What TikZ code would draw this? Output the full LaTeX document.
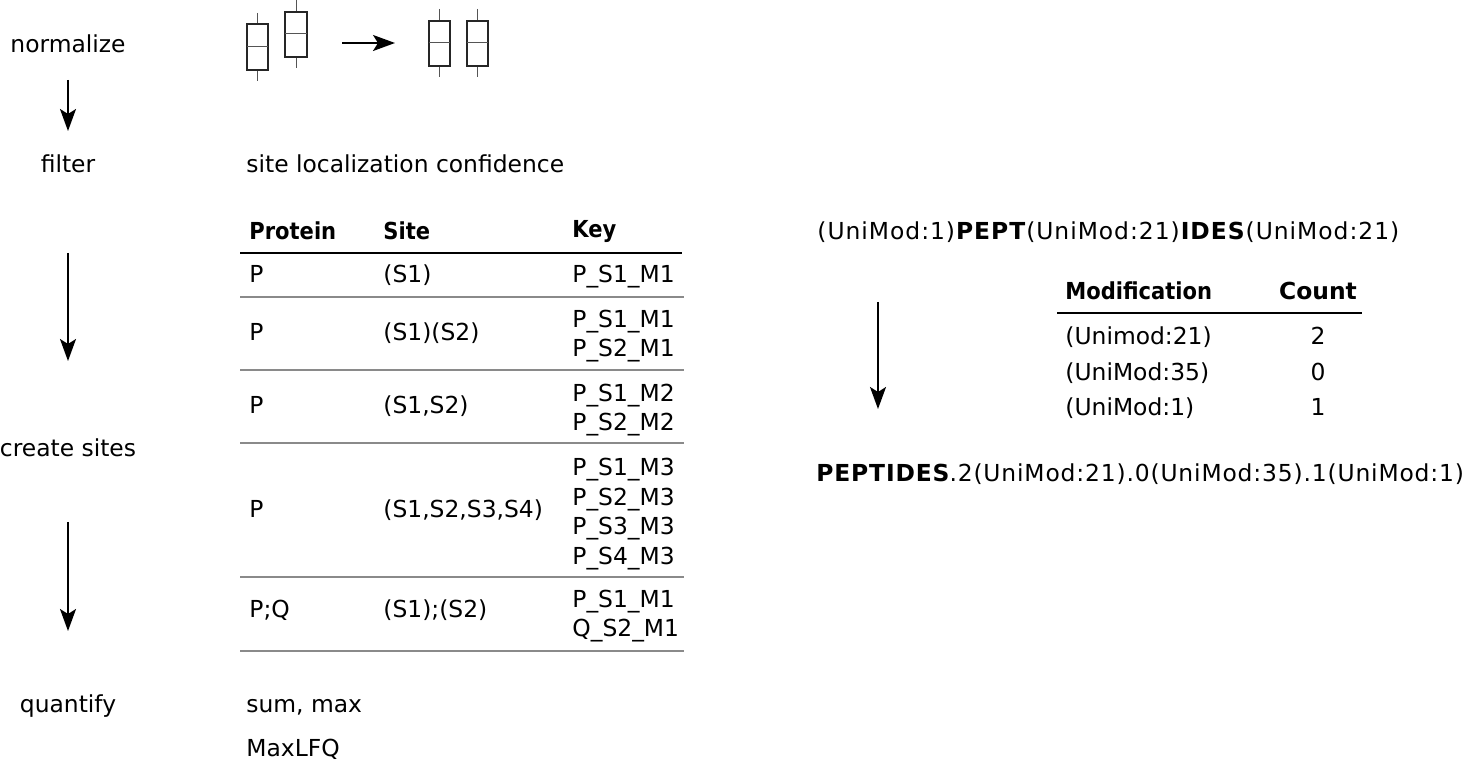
\documentclass[tikz,border=0pt]{standalone}
\usepackage{fontspec}
\setmainfont{DejaVu Sans}
\newfontfamily\condfont{DejaVu Sans Condensed}
\usetikzlibrary{arrows.meta,positioning}
\definecolor{RuleGray}{HTML}{8A8A8A}
\definecolor{WhiskGray}{HTML}{555555}
\tikzset{
  lbl/.style={font=\fontsize{11.7}{15}\selectfont,inner sep=0pt,
              text height=0.95em,text depth=0.15em},
  hdr/.style={lbl,font=\fontsize{11.7}{15}\selectfont\condfont\bfseries},
  keys/.style={font=\fontsize{11.7}{14.8}\selectfont,inner sep=0pt,align=left},
  flow/.style={-{Stealth[length=11pt,width=8pt,inset=2.5pt]},line width=0.9pt},
  boxp/.style={draw=black!85,line width=0.8pt,fill=white},
  whisk/.style={draw=WhiskGray,line width=0.5pt},
  toprule/.style={line width=1.4pt},
  rowrule/.style={draw=RuleGray,line width=0.6pt},
}
% one boxplot: x-left, x-right, y-top, y-bottom, median, whisker top, whisker bottom
\newcommand{\boxglyph}[7]{%
  \draw[whisk] ({(#1+#2)/2},#6) -- ({(#1+#2)/2},#7);
  \draw[boxp] (#1,#3) rectangle (#2,#4);
  \draw[whisk] (#1,#5) -- (#2,#5);
}

\begin{document}
\begin{tikzpicture}[x=0.5pt,y=-0.5pt]
  \useasboundingbox (0,0) rectangle (1467,763);

  % steps on the left
  \node[lbl] (normalize) at (68,45)  {normalize};
  \node[lbl] (filter)    at (68,165) {filter};
  \node[lbl] (create)    at (68,449) {create sites};
  \node[lbl] (quantify)  at (68,705) {quantify};

  \coordinate (a1s) at (68,80);  \coordinate (a1e) at (68,131);
  \coordinate (a2s) at (68,253); \coordinate (a2e) at (68,361);
  \coordinate (a3s) at (68,522); \coordinate (a3e) at (68,631);
  \draw[flow] (a1s) -- (a1e);
  \draw[flow] (a2s) -- (a2e);
  \draw[flow] (a3s) -- (a3e);

  % normalization sketch
  \boxglyph{247}{268}{24}{70}{47}{13}{81}
  \boxglyph{285}{307}{12}{57}{34}{0}{68}
  \coordinate (nS) at (342,43); \coordinate (nE) at (395,43);
  \draw[flow] (nS) -- (nE);
  \boxglyph{429}{450}{21}{66}{43}{9}{77}
  \boxglyph{467}{488}{21}{66}{43}{9}{77}

  \node[lbl,anchor=west] (conf) at (246,165) {site localization confidence};

  % site table
  \node[hdr,anchor=west] (hProt) at (249,232) {Protein};
  \node[hdr,anchor=west] (hSite) at (383,232) {Site};
  \node[hdr,anchor=west] (hKey)  at (572,230) {Key};
  \draw[toprule] (240,253) -- (682,253);
  \foreach \y in {297,370,443,577,651}
    \draw[rowrule] (240,\y) -- (684,\y);

  \node[lbl,anchor=west] (p1) at (249,275) {P};
  \node[lbl,anchor=west] (s1) at (383,275) {(S1)};
  \node[lbl,anchor=west] (k1) at (572,275) {P\_S1\_M1};

  \node[lbl,anchor=west] (p2) at (249,333) {P};
  \node[lbl,anchor=west] (s2) at (383,333) {(S1)(S2)};
  \node[keys,anchor=west] (k2) at (572,336) {P\_S1\_M1\\P\_S2\_M1};

  \node[lbl,anchor=west] (p3) at (249,406) {P};
  \node[lbl,anchor=west] (s3) at (383,406) {(S1,S2)};
  \node[keys,anchor=west] (k3) at (572,410) {P\_S1\_M2\\P\_S2\_M2};

  \node[lbl,anchor=west] (p4) at (249,510) {P};
  \node[lbl,anchor=west] (s4) at (383,510) {(S1,S2,S3,S4)};
  \node[keys,anchor=west] (k4) at (572,514)
    {P\_S1\_M3\\P\_S2\_M3\\P\_S3\_M3\\P\_S4\_M3};

  \node[lbl,anchor=west] (p5) at (249,610) {P;Q};
  \node[lbl,anchor=west] (s5) at (383,610) {(S1);(S2)};
  \node[keys,anchor=west] (k5) at (572,616) {P\_S1\_M1\\Q\_S2\_M1};

  \node[lbl,anchor=west] (aggr)   at (246,705) {sum, max};
  \node[lbl,anchor=west] (maxlfq) at (246,748) {MaxLFQ};

  % peptide encoding on the right
  \node[lbl,anchor=west] (modpep) at (817,232)
    {\addfontfeature{LetterSpace=4.2}(UniMod:1)\textbf{PEPT}(UniMod:21)\textbf{IDES}(UniMod:21)};
  \coordinate (rS) at (878,302); \coordinate (rE) at (878,409);
  \draw[flow] (rS) -- (rE);

  \node[hdr,anchor=west] (hMod) at (1065,292) {Modification};
  \node[lbl,font=\fontsize{11.7}{15}\selectfont\bfseries] (hCnt) at (1318,292) {Count};
  \draw[toprule] (1057,313) -- (1362,313);
  \node[lbl,anchor=west] (m1) at (1065,337) {(Unimod:21)};
  \node[lbl,anchor=west] (m2) at (1065,373) {(UniMod:35)};
  \node[lbl,anchor=west] (m3) at (1065,408) {(UniMod:1)};
  \node[lbl] (c1) at (1318,337) {2};
  \node[lbl] (c2) at (1318,373) {0};
  \node[lbl] (c3) at (1318,408) {1};

  \node[lbl,anchor=west] (encoded) at (816,474)
    {\addfontfeature{LetterSpace=3.6}\textbf{PEPTIDES}.2(UniMod:21).0(UniMod:35).1(UniMod:1)};
\end{tikzpicture}
\end{document}
